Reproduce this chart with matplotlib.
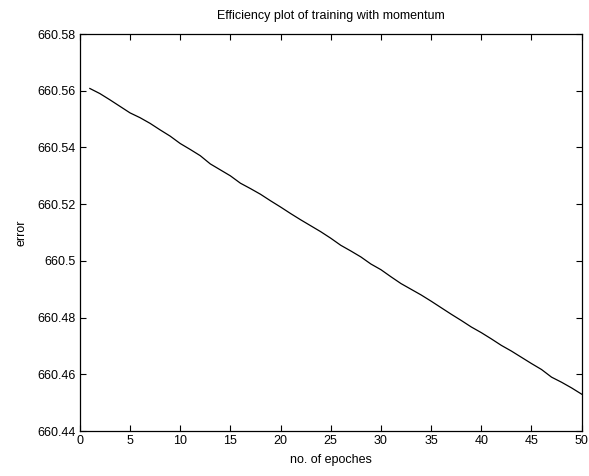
import matplotlib
matplotlib.use("Agg")
import matplotlib.pyplot as plt

plt.rcParams['font.family'] = ['Liberation Sans', 'DejaVu Sans']

epochs = list(range(1, 51))
error = [660.5608, 660.5590, 660.5568, 660.5545, 660.5522, 660.5505, 660.5485, 660.5462,
         660.5440, 660.5414, 660.5393, 660.5371, 660.5342, 660.5321, 660.5300, 660.5274,
         660.5255, 660.5235, 660.5212, 660.5190, 660.5167, 660.5145, 660.5124, 660.5103,
         660.5080, 660.5055, 660.5035, 660.5014, 660.4989, 660.4969, 660.4944, 660.4920,
         660.4900, 660.4880, 660.4858, 660.4835, 660.4812, 660.4790, 660.4767, 660.4747,
         660.4725, 660.4702, 660.4682, 660.4660, 660.4638, 660.4617, 660.4590, 660.4572,
         660.4552, 660.4530]

x_ticks = [0, 5, 10, 15, 20, 25, 30, 35, 40, 45, 50]
y_ticks = [660.44, 660.46, 660.48, 660.50, 660.52, 660.54, 660.56, 660.58]
y_tick_labels = ['660.44', '660.46', '660.48', '660.5', '660.52', '660.54', '660.56', '660.58']

fig = plt.figure(figsize=(5.89, 4.76), dpi=100)
ax = fig.add_axes([0.1355, 0.0945, 0.852, 0.834])
ax.plot(epochs, error, color='black', linewidth=0.9)
ax.set_xlim(0, 50)
ax.set_ylim(660.44, 660.58)
ax.set_xticks(x_ticks)
ax.set_xticklabels([str(t) for t in x_ticks])
ax.set_yticks(y_ticks)
ax.set_yticklabels(y_tick_labels)
ax.tick_params(direction='in', top=True, right=True, length=4, width=0.8,
               labelsize=9, pad=3)
for s in ax.spines.values():
    s.set_linewidth(0.9)
ax.set_title('Efficiency plot of training with momentum', fontsize=9, pad=11)
ax.set_xlabel('no. of epoches', fontsize=9, labelpad=5)
ax.set_ylabel('error', fontsize=9, labelpad=7)
fig.savefig('out.png', dpi=100)
